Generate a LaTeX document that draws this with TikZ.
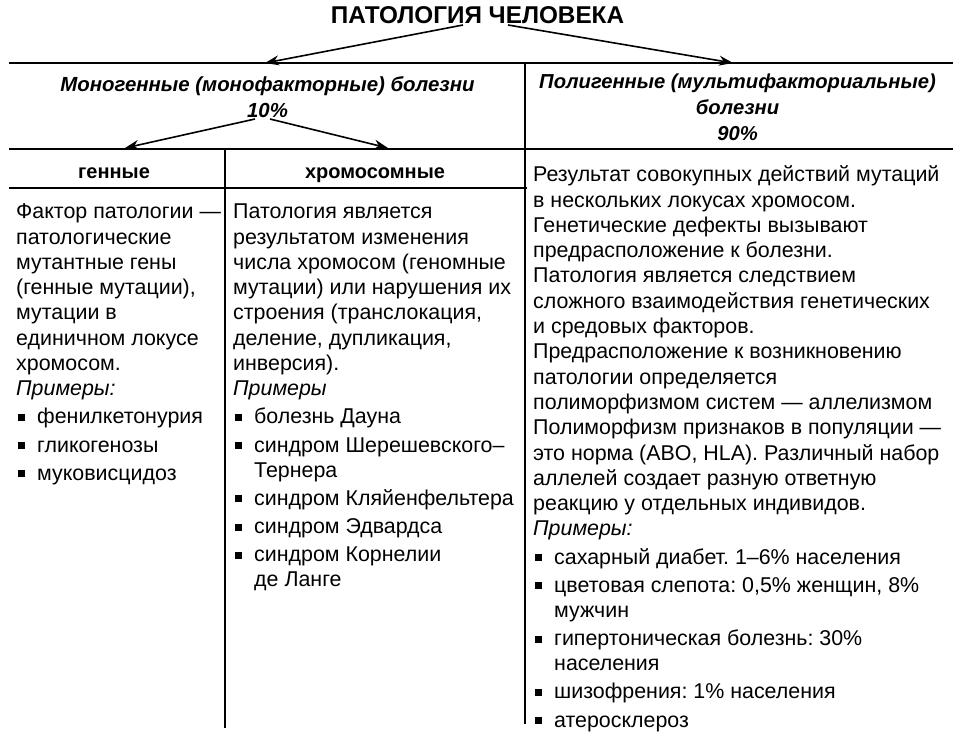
\documentclass[tikz,border=0pt]{standalone}
\usepackage{fontspec}
\setmainfont{Liberation Sans}
\usetikzlibrary{arrows.meta}
\frenchspacing
\newcommand\blt{\makebox[21pt][l]{\hspace{1.5pt}\rule[3pt]{7pt}{7pt}}}
\newcommand\ind{\hspace*{21pt}}
\begin{document}
\frenchspacing
\begin{tikzpicture}[x=1pt,y=-1pt,
  rulel/.style={line width=1.5pt},
  arr/.style={line width=1.6pt,-{Stealth[length=14pt,width=10pt]}},
  body/.style={font=\fontsize{21.4}{25.3}\selectfont,inner sep=0pt,anchor=north west,align=left},
  head/.style={font=\fontsize{20.4}{25.5}\selectfont\bfseries\itshape,inner sep=0pt,anchor=north,align=center},
  sub/.style={font=\fontsize{20}{24}\selectfont\bfseries,inner sep=0pt,anchor=base}]
\useasboundingbox (0,0) rectangle (959,740);
\fill[white] (0,0) rectangle (959,740);

% title
\node[font=\fontsize{24.3}{28}\selectfont\bfseries,inner sep=0pt,anchor=base] (title) at (477.5,23) {ПАТОЛОГИЯ ЧЕЛОВЕКА};

% rules of the table
\draw[rulel] (9,63) -- (953,63);
\draw[rulel] (9,149) -- (953,149);
\draw[rulel] (9,188) -- (527,188);
\draw[rulel] (525,63) -- (525,724);
\draw[rulel] (225,149) -- (225,728);

% headings
\node[head] (mono) at (267.5,73.8) {\strut Моногенные (монофакторные) болезни\\10\%};
\node[head,font=\fontsize{20.2}{26}\selectfont\bfseries\itshape] (poly) at (737.5,70.3) {\strut Полигенные (мультифакториальные)\\болезни\\90\%};
\node[sub] (gen) at (114,178.5) {генные};
\node[sub] (chrom) at (375,178.5) {хромосомные};

% arrows
\coordinate (t1) at (463,25);
\coordinate (t2) at (508,25);
\coordinate (m1) at (265,63);
\coordinate (p1) at (733,63);
\coordinate (s1) at (255,119);
\coordinate (s2) at (270,119);
\coordinate (g1) at (125,148);
\coordinate (c1) at (388,148);
\draw[arr] (t1) -- (m1);
\draw[arr] (t2) -- (p1);
\draw[arr] (s1) -- (g1);
\draw[arr] (s2) -- (c1);

% column texts
\node[body] (gtext) at (16,200.8) {\strut Фактор патологии —\\
патологические\\
мутантные гены\\
(генные мутации),\\
мутации в\\
единичном локусе\\
хромосом.\\
\textit{Примеры:}\\[2.8pt]
\blt фенилкетонурия\\[2.8pt]
\blt гликогенозы\\[2.8pt]
\blt муковисцидоз};

\node[body] (ctext) at (233,200.8) {\strut Патология является\\
результатом изменения\\
числа хромосом (геномные\\
мутации) или нарушения их\\
строения (транслокация,\\
деление, дупликация,\\
инверсия).\\
\textit{Примеры}\\[2.8pt]
\blt болезнь Дауна\\[2.8pt]
\blt синдром Шерешевского–\\
\ind Тернера\\[2.8pt]
\blt синдром Кляйенфельтера\\[2.8pt]
\blt синдром Эдвардса\\[2.8pt]
\blt синдром Корнелии\\
\ind де Ланге};

\node[body] (ptext) at (533,163.8) {\strut Результат совокупных действий мутаций\\
в нескольких локусах хромосом.\\
Генетические дефекты вызывают\\
предрасположение к болезни.\\
Патология является следствием\\
сложного взаимодействия генетических\\
и средовых факторов.\\
Предрасположение к возникновению\\
патологии определяется\\
полиморфизмом систем — аллелизмом\\
Полиморфизм признаков в популяции —\\
это норма (ABO, HLA). Различный набор\\
аллелей создает разную ответную\\
реакцию у отдельных индивидов.\\
\textit{Примеры:}\\[2.8pt]
\blt сахарный диабет. 1–6\% населения\\[2.8pt]
\blt цветовая слепота: 0,5\% женщин, 8\%\\
\ind мужчин\\[2.8pt]
\blt гипертоническая болезнь: 30\%\\
\ind населения\\[2.8pt]
\blt шизофрения: 1\% населения\\[2.8pt]
\blt атеросклероз};
\end{tikzpicture}
\end{document}
